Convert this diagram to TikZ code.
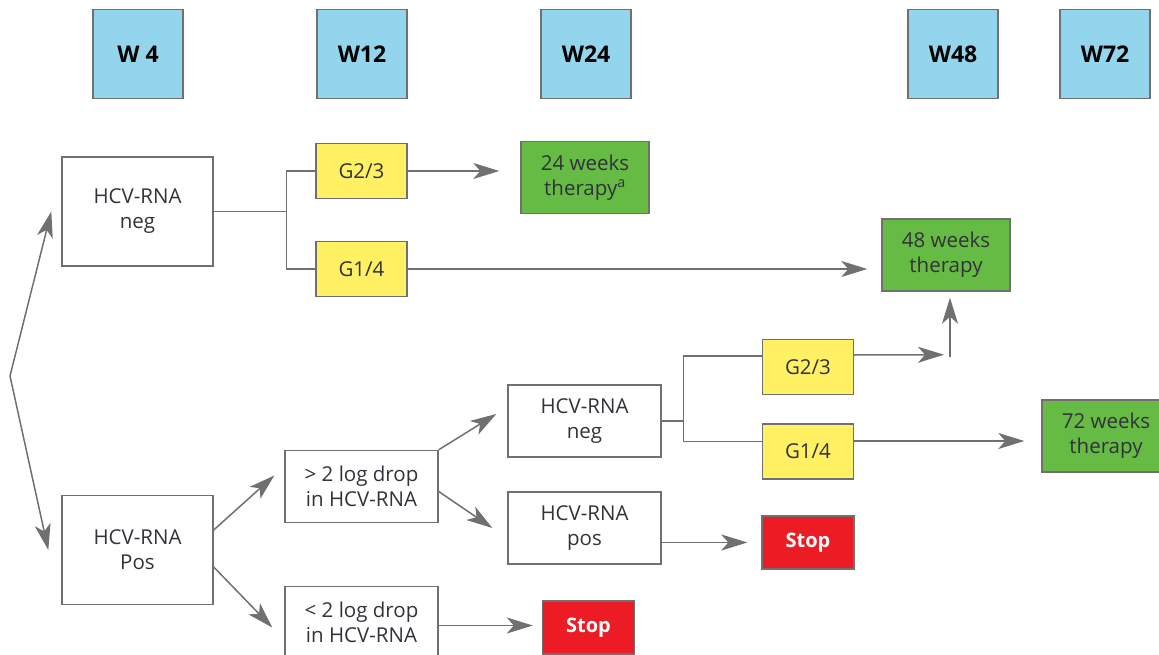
\documentclass[tikz,border=0pt]{standalone}
\usepackage{fontspec}
\setmainfont{Open Sans}
\usetikzlibrary{arrows.meta,shapes}
\definecolor{hdrblue}{RGB}{146,213,236}
\definecolor{genoyel}{RGB}{255,240,100}
\definecolor{thergreen}{RGB}{102,187,68}
\definecolor{stopred}{RGB}{237,28,36}
\definecolor{lngray}{RGB}{112,112,112}
\definecolor{txtgray}{RGB}{50,50,58}

\begin{document}
\begin{tikzpicture}[x=1pt,y=-1pt,
  box/.style={draw=lngray,line width=1.4pt,align=center,inner sep=0pt,text=txtgray,font=\fontsize{20.5}{25}\selectfont},
  wk/.style={box,fill=hdrblue,text=black,minimum width=90pt,minimum height=89pt,font=\bfseries\fontsize{23}{27}\selectfont},
  rna/.style={box,minimum width=151pt,minimum height=109pt},
  drop/.style={box,minimum width=153pt,minimum height=72pt},
  geno/.style={box,fill=genoyel,minimum width=91pt,minimum height=55pt},
  ther/.style={box,fill=thergreen,minimum width=128pt,minimum height=72pt},
  stp/.style={box,fill=stopred,text=white,minimum width=92pt,minimum height=53pt,font=\bfseries\fontsize{20}{24}\selectfont},
  link/.style={draw=lngray,line width=1.5pt},
  arr/.style={link,-{Stealth[length=26pt,width=16pt,inset=7pt]}}]
\useasboundingbox (0,0) rectangle (1159,655);

\node[wk] (w4) at (138,54) {W 4};
\node[wk] (w12) at (362,54) {W12};
\node[wk] (w24) at (586,54) {W24};
\node[wk] (w48) at (953,54) {W48};
\node[wk] (w72) at (1105,54) {W72};

\node[rna] (neg) at (137.5,211.5) {HCV-RNA\\neg};
\node[rna] (pos) at (137.5,550) {HCV-RNA\\Pos};
\node[geno] (g23a) at (361.5,171) {G2/3};
\node[geno] (g14a) at (361.5,269) {G1/4};
\node[ther] (t24) at (585,177.5) {24 weeks\\therapy\textsuperscript{a}};
\node[ther] (t48) at (946,255) {48 weeks\\therapy};
\node[drop] (up) at (361.5,486.5) {> 2 log drop\\in HCV-RNA};
\node[drop] (dn) at (361.5,622.5) {< 2 log drop\\in HCV-RNA};
\node[stp] (stopa) at (588.5,627.5) {Stop};
\node[drop] (neg2) at (584.5,421) {HCV-RNA\\neg};
\node[drop] (pos2) at (584.5,528) {HCV-RNA\\pos};
\node[geno] (g23b) at (808,367) {G2/3};
\node[geno] (g14b) at (808,451.5) {G1/4};
\node[stp] (stopb) at (808,542.5) {Stop};
\node[ther] (t72) at (1106,436) {72 weeks\\therapy};

\coordinate (fork) at (10,376);
\draw[arr] (fork) -- ([xshift=-10pt]neg.west);
\draw[arr] (fork) -- ([xshift=-13pt]pos.west);

\draw[link] (neg.east) -- ++(73,0) coordinate (bra);
\draw[link] (g23a.west) -| (bra) |- (g14a.west);
\draw[arr,shorten >=21pt] (g23a.east) -- (t24.west |- g23a.east);
\draw[arr,shorten >=14pt] (g14a.east) -- (t48.west |- g14a.east);

\draw[arr] ([yshift=20pt]pos.east) -- ([xshift=-10pt,yshift=11pt]up.west);
\draw[arr] ([yshift=-17pt]pos.east) -- ([xshift=-12pt,yshift=-5pt]dn.west);
\draw[arr] (up.north east) -- ([xshift=-11pt,yshift=7pt]neg2.west);
\draw[arr] ([yshift=-5pt]up.east) -- ([xshift=-15pt]pos2.west);
\draw[arr] ([yshift=-14.5pt]pos2.east) -- ([xshift=-14pt]stopb.west);
\draw[arr] ([yshift=-3pt]dn.east) -- ([xshift=-9pt,yshift=2pt]stopa.west);

\draw[link] (neg2.east) -- ++(22,0) coordinate (brb);
\draw[link] ([yshift=11pt]g23b.west) -| (brb) |- ([yshift=10pt]g14b.west);
\coordinate (elb) at ([xshift=4pt,yshift=-65pt]t48.south);
\draw[arr] ([yshift=12pt]g23b.east) -- ([xshift=-6pt,yshift=2pt]elb);
\draw[arr] (elb) -- ([xshift=4pt,yshift=-6pt]t48.south);
\draw[arr] ([yshift=10.5pt]g14b.east) -- ([xshift=-17pt,yshift=-5pt]t72.west);
\end{tikzpicture}
\end{document}
